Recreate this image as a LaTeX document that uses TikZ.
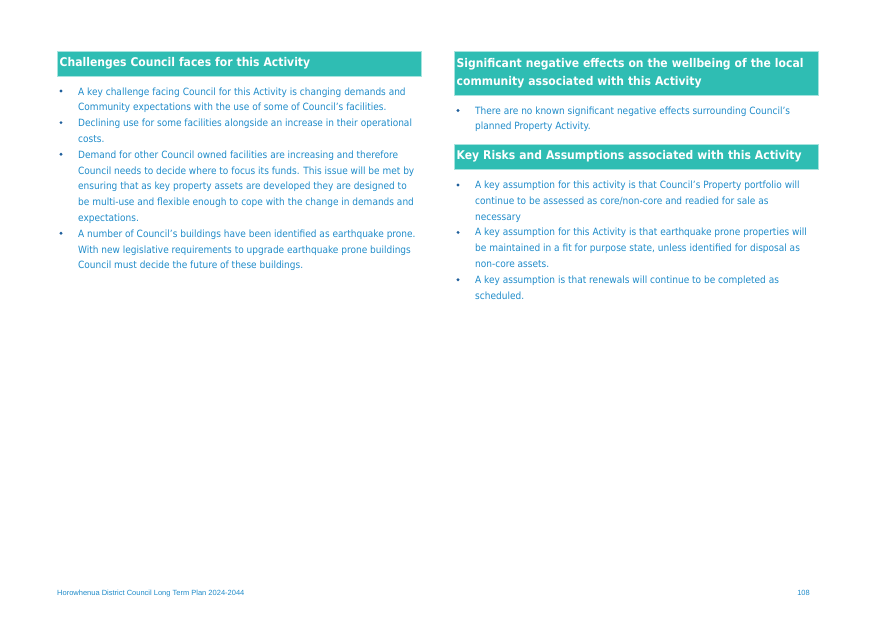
\documentclass[tikz,border=0pt]{standalone}
\usepackage{fontspec}
\setmainfont[FakeStretch=0.9]{DejaVu Sans}
\newfontfamily\footfont{Liberation Sans}
\usepackage{tikz}
\definecolor{headteal}{HTML}{2FBDB3}
\definecolor{headedge}{HTML}{A6E3DE}
\definecolor{bodyblue}{HTML}{1F8BC9}
\definecolor{dotblue}{HTML}{1F5F9C}

\begin{document}
\begin{tikzpicture}[x=1pt, y=-1pt,
  header/.style={draw=headedge, fill=headteal, text=white, anchor=north west, align=left,
    font=\bfseries\fontsize{12}{18.4}\selectfont, inner xsep=2.5pt, inner ysep=0pt, text width=359pt},
  item/.style={anchor=base west, align=left, text=bodyblue, inner sep=0pt,
    font=\fontsize{10}{15.8}\selectfont},
  bulletmark/.style={circle, fill=dotblue, inner sep=0pt, minimum size=3.2pt}]

\useasboundingbox (0,0) rectangle (874,618);

\node[header, minimum height=25pt] (challenges) at (57,51) {Challenges Council faces for this Activity};

\node[bulletmark] (c1dot) at (61,91) {};
\node[item] (c1) at (78,110.8) {A key challenge facing Council for this Activity is changing demands and\\Community expectations with the use of some of Council’s facilities.};
\node[bulletmark] (c2dot) at (61,122.6) {};
\node[item] (c2) at (78,142.4) {Declining use for some facilities alongside an increase in their operational\\costs.};
\node[bulletmark] (c3dot) at (61,154.2) {};
\node[item] (c3) at (78,221.4) {Demand for other Council owned facilities are increasing and therefore\\Council needs to decide where to focus its funds. This issue will be met by\\ensuring that as key property assets are developed they are designed to\\be multi-use and flexible enough to cope with the change in demands and\\expectations.};
\node[bulletmark] (c4dot) at (61,233.2) {};
\node[item] (c4) at (78,268.8) {A number of Council’s buildings have been identified as earthquake prone.\\With new legislative requirements to upgrade earthquake prone buildings\\Council must decide the future of these buildings.};

\node[header, minimum height=44pt] (effects) at (454,51) {Significant negative effects on the wellbeing of the local\\community associated with this Activity};

\node[bulletmark] (e1dot) at (458,110.5) {};
\node[item] (e1) at (475,129.8) {There are no known significant negative effects surrounding Council’s\\planned Property Activity.};

\node[header, minimum height=25pt] (risks) at (454,144) {Key Risks and Assumptions associated with this Activity};

\node[bulletmark] (r1dot) at (458,185) {};
\node[item] (r1) at (475,220.1) {A key assumption for this activity is that Council’s Property portfolio will\\continue to be assessed as core/non-core and readied for sale as\\necessary};
\node[bulletmark] (r2dot) at (458,232.4) {};
\node[item] (r2) at (475,267.5) {A key assumption for this Activity is that earthquake prone properties will\\be maintained in a fit for purpose state, unless identified for disposal as\\non-core assets.};
\node[bulletmark] (r3dot) at (458,279.8) {};
\node[item] (r3) at (475,299.1) {A key assumption is that renewals will continue to be completed as\\scheduled.};

\node[anchor=base west, inner sep=0pt, text=bodyblue, font=\footfont\fontsize{7.5}{9}\selectfont] (plan) at (57,595) {Horowhenua District Council Long Term Plan 2024-2044};
\node[anchor=base east, inner sep=0pt, text=bodyblue, font=\footfont\fontsize{7.5}{9}\selectfont] (page) at (810,595) {108};

\end{tikzpicture}
\end{document}
